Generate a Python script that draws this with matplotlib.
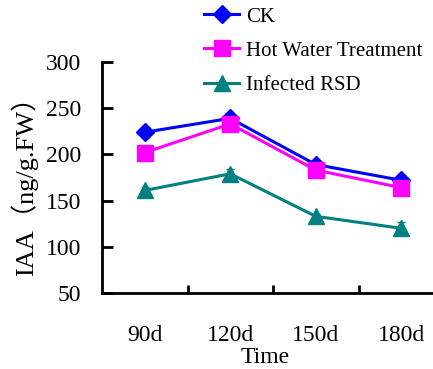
import matplotlib
matplotlib.use("Agg")
import matplotlib.pyplot as plt
from matplotlib.lines import Line2D
import numpy as np

categories = ["90d", "120d", "150d", "180d"]
ck = [224, 239, 189, 172]
ck_err = [4, 3, 3, 3]
hwt = [202, 233, 183, 164]
hwt_err = [3, 3, 3, 3]
rsd = [161, 179, 133, 120]
rsd_err = [4, 5, 3, 7]
yticks = [50, 100, 150, 200, 250, 300]
labels = ["CK", "Hot Water Treatment", "Infected RSD"]
colors = ["#0000FF", "#FF00FF", "#008080"]
markers = ["D", "s", "^"]
msizes = [9.5, 11, 11]

W, H = 433, 369
fig = plt.figure(figsize=(W/100, H/100), dpi=100)
left, right, top, bottom = 102, 444, 62, 293
ax = fig.add_axes([left/W, 1-bottom/H, (right-left)/W, (bottom-top)/H])

x = np.arange(len(categories))
handles = []
for vals, errs, c, m, ms, lab, z in zip([ck, hwt, rsd], [ck_err, hwt_err, rsd_err],
                                       colors, markers, msizes, labels, [3, 4, 3]):
    ax.errorbar(x, vals, yerr=errs, color=c, marker=m, markersize=ms, lw=2.2,
                capsize=3, elinewidth=1.2, zorder=z)
    handles.append(Line2D([], [], color=c, marker=m, markersize=ms, lw=2.2, label=lab))

ax.set_xlim(-0.5, 3.5)
ax.set_ylim(50, 300)
ax.set_yticks(yticks)
ax.spines["top"].set_visible(False)
ax.spines["right"].set_visible(False)
for s in ["left", "bottom"]:
    ax.spines[s].set_linewidth(2)

serif = ["Liberation Serif", "Noto Sans CJK SC"]
ax.tick_params(axis="y", direction="in", length=8, width=2, pad=15, labelsize=17)
for lab in ax.get_yticklabels():
    lab.set_family(serif)
ax.set_xticks(np.arange(0.5, 4, 1))
ax.set_xticklabels([])
ax.tick_params(axis="x", which="major", direction="in", length=6, width=2)
ax.set_xticks(x, minor=True)
ax.set_xticklabels(categories, minor=True, family=serif, fontsize=17)
ax.tick_params(axis="x", which="minor", length=0, pad=23)

fig.text(24/W, 1-180/H, "IAA（ng/g.FW）", rotation=90, ha="center", va="center",
         family=serif, fontsize=19)
fig.text(265/W, 1-357.5/H, "Time", ha="center", va="center", family=serif, fontsize=17)

leg = fig.legend(handles=handles, loc="upper left", bbox_to_anchor=(204/W, 1-7/H),
                 frameon=False, prop={"family": "Liberation Serif", "size": 15},
                 handlelength=1.7, handletextpad=0.3, labelspacing=0.7, borderaxespad=0,
                 borderpad=0)

fig.savefig("out.png", dpi=100)
